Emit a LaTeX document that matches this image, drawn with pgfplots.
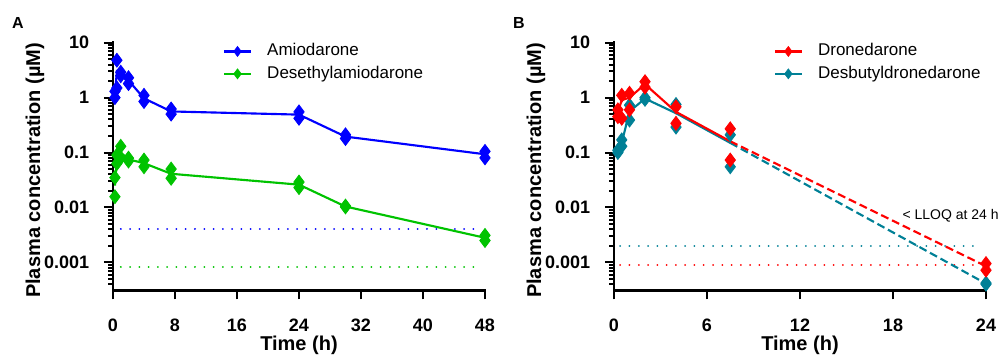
\documentclass[border=0pt]{standalone}
\usepackage{pgfplots}
\pgfplotsset{compat=1.18}
\usepackage{fontspec}
\setmainfont{Liberation Sans}
\definecolor{cblue}{RGB}{0,0,255}
\definecolor{cgreen}{RGB}{0,195,0}
\definecolor{cred}{RGB}{255,0,0}
\definecolor{cteal}{RGB}{0,128,150}
\pgfplotsset{
  every axis/.append style={
    scale only axis, width=279pt, height=185.7pt,
    ymin=3.1e-4, ymax=10,
    ytick={0.001,0.01,0.1,1,10},
    yticklabels={0.001,0.01,0.1,1,10},
    minor ytick={4e-4,5e-4,6e-4,7e-4,8e-4,9e-4,2e-3,3e-3,4e-3,5e-3,6e-3,7e-3,8e-3,9e-3,0.02,0.03,0.04,0.05,0.06,0.07,0.08,0.09,0.2,0.3,0.4,0.5,0.6,0.7,0.8,0.9,2,3,4,5,6,7,8,9},
    ticklabel style={font=\bfseries\fontsize{13.5}{16}\selectfont},
    yticklabel style={inner sep=0pt, anchor=east, xshift=-11pt},
    xticklabel style={inner sep=0pt, anchor=north, yshift=-14.25pt},
    clip=false,
    label style={font=\bfseries\fontsize{15}{18}\selectfont},
    ylabel={Plasma concentration (µM)},
    xlabel={Time (h)},
    legend cell align=left,
  },
  every axis y label/.style={at={(axis description cs:-0.2097,0.484)}, rotate=90, anchor=center},
  every axis x label/.style={at={(axis description cs:0.5,-0.221)}, anchor=center},
  every axis legend/.style={draw=none, fill=none, inner sep=0pt, outer sep=0pt, font=\fontsize{12.75}{15}\selectfont, anchor=north west,
      nodes={inner sep=0pt, text height=9.2pt, text depth=2.8pt}, row sep=4.8pt, cells={anchor=west},
      /tikz/every odd column/.append style={column sep=11.5pt}},
  legend image code/.code={\draw[mark repeat=2,mark phase=2] plot coordinates {(0pt,0pt) (10pt,0pt) (20pt,0pt)};},
  myln/.style={line width=1.6pt, no marks, forget plot},
  mypts/.style={only marks, mark=diamond*, mark size=5.2pt, mark options={line width=0.6pt}, forget plot},
  mylloq/.style={line width=1.5pt, dash pattern=on 0.01pt off 6.95pt, line cap=round, no marks, forget plot},
  mydsh/.style={line width=1.6pt, dash pattern=on 6pt off 3pt, no marks, forget plot},
}
\newcommand{\yaxisticks}{%
  \draw[black, line width=2pt, line cap=rect] (rel axis cs:0,1) -- (rel axis cs:0,0) -- (rel axis cs:1,0);
  \pgfplotsinvokeforeach{0.001,0.01,0.1,1,10}{\draw[black, line width=1.5pt] (axis cs:0,##1) -- ++(-6.75pt,0pt);}
  \pgfplotsinvokeforeach{4e-4,5e-4,6e-4,7e-4,8e-4,9e-4,2e-3,3e-3,4e-3,5e-3,6e-3,7e-3,8e-3,9e-3,0.02,0.03,0.04,0.05,0.06,0.07,0.08,0.09,0.2,0.3,0.4,0.5,0.6,0.7,0.8,0.9,2,3,4,5,6,7,8,9}{\draw[black, line width=1.3pt] (axis cs:0,##1) -- ++(-3.75pt,0pt);}
}
\begin{document}
\begin{tikzpicture}
\useasboundingbox (0pt,0pt) rectangle (756pt,267pt);
% ---------------- Panel A ----------------
\begin{semilogyaxis}[at={(84.75pt,49.275pt)}, anchor=south west,
  axis lines=left,
  x axis line style={-, line width=2pt, black},
  y axis line style={-, line width=2pt, black},
  tick style={black, line width=1.5pt},
  tick align=outside,
  major tick length=6.75pt, minor tick length=3.5pt,
  xmin=0, xmax=48, xtick={0,8,16,24,32,40,48},
  xticklabels={0,8,16,24,32,40,48},
  legend style={at={(0.296,0.997)}}]
\addplot[mylloq, cblue] coordinates {(1,0.004) (47.5,0.004)};
\addplot[mylloq, cgreen] coordinates {(1,0.00083) (47.5,0.00083)};
\addplot[myln, cgreen] coordinates {(0.25,0.025) (0.5,0.075) (1,0.1) (2,0.075) (4,0.064) (7.5,0.041) (24,0.026) (30,0.0104) (48,0.0028)};
\addplot[myln, cblue] coordinates {(0.25,1.15) (0.5,3.0) (1,2.7) (2,2.05) (4,0.97) (7.5,0.56) (24,0.49) (30,0.195) (48,0.093)};
\addplot[mypts, cgreen] coordinates {(0.25,0.0157) (0.25,0.035) (0.5,0.063) (0.5,0.09) (1,0.13) (1,0.08) (2,0.079) (2,0.07) (4,0.073) (4,0.055) (7.5,0.05) (7.5,0.034) (24,0.029) (24,0.023) (30,0.0106) (30,0.0102) (48,0.0031) (48,0.0025)};
\addplot[mypts, cblue] coordinates {(0.25,1.0) (0.25,1.3) (0.5,4.8) (0.5,1.5) (1,2.9) (1,2.5) (2,2.3) (2,1.8) (4,1.1) (4,0.85) (7.5,0.62) (7.5,0.5) (24,0.55) (24,0.42) (30,0.21) (30,0.18) (48,0.105) (48,0.08)};
\yaxisticks
\pgfplotsinvokeforeach{0,8,16,24,32,40,48}{\draw[black, line width=1.5pt] (axis cs:#1,3.1e-4) -- ++(0pt,-6.75pt);}
\addlegendimage{cblue, line width=1.6pt, mark=diamond*, mark size=3.8pt, mark options={solid, line width=0.4pt}}
\addlegendentry{Amiodarone}
\addlegendimage{cgreen, line width=1.6pt, mark=diamond*, mark size=3.8pt, mark options={solid, line width=0.4pt}}
\addlegendentry{Desethylamiodarone}
\end{semilogyaxis}
% ---------------- Panel B ----------------
\begin{semilogyaxis}[at={(460.5pt,49.275pt)}, anchor=south west,
  axis lines=left,
  x axis line style={-, line width=2pt, black},
  y axis line style={-, line width=2pt, black},
  tick style={black, line width=1.5pt},
  tick align=outside,
  major tick length=6.75pt, minor tick length=3.5pt,
  xmin=0, xmax=24, xtick={0,6,12,18,24},
  xticklabels={0,6,12,18,24},
  legend style={at={(0.43,0.997)}}]
\addplot[mylloq, cteal] coordinates {(0.4,0.002) (23.6,0.002)};
\addplot[mylloq, cred] coordinates {(0.4,0.0009) (23.6,0.0009)};
\addplot[mydsh, cteal] coordinates {(7.5,0.15) (24,0.00041)};
\addplot[mydsh, cred] coordinates {(7.5,0.16) (24,0.00085)};
\addplot[myln, cteal] coordinates {(0.25,0.105) (0.5,0.15) (1,0.56) (2,0.96) (4,0.52) (7.5,0.15)};
\addplot[myln, cred] coordinates {(0.25,0.55) (0.5,0.9) (1,1.0) (2,1.75) (4,0.55) (7.5,0.16)};
\addplot[mypts, cteal] coordinates {(0.25,0.11) (0.25,0.1) (0.5,0.17) (0.5,0.13) (1,0.73) (1,0.39) (2,1.0) (2,0.93) (4,0.75) (4,0.29) (7.5,0.21) (7.5,0.055) (24,0.00042) (24,0.0004)};
\addplot[mypts, cred] coordinates {(0.25,0.6) (0.25,0.45) (0.5,1.1) (0.5,0.42) (1,1.2) (1,0.6) (2,1.95) (2,1.55) (4,0.68) (4,0.34) (7.5,0.27) (7.5,0.073) (24,0.00095) (24,0.00072)};
\yaxisticks
\pgfplotsinvokeforeach{0,6,12,18,24}{\draw[black, line width=1.5pt] (axis cs:#1,3.1e-4) -- ++(0pt,-6.75pt);}
\node[anchor=west, font=\fontsize{10.5}{12}\selectfont, inner sep=0pt] at (axis cs:18.6,0.0072) {< LLOQ at 24 h};
\addlegendimage{cred, line width=1.6pt, mark=diamond*, mark size=3.8pt, mark options={solid, line width=0.4pt}}
\addlegendentry{Dronedarone}
\addlegendimage{cteal, line width=1.6pt, mark=diamond*, mark size=3.8pt, mark options={solid, line width=0.4pt}}
\addlegendentry{Desbutyldronedarone}
\end{semilogyaxis}
\node[font=\bfseries\fontsize{12}{14}\selectfont] at (13.5pt,250.1pt) {A};
\node[font=\bfseries\fontsize{12}{14}\selectfont] at (389.25pt,250.1pt) {B};
\end{tikzpicture}
\end{document}
